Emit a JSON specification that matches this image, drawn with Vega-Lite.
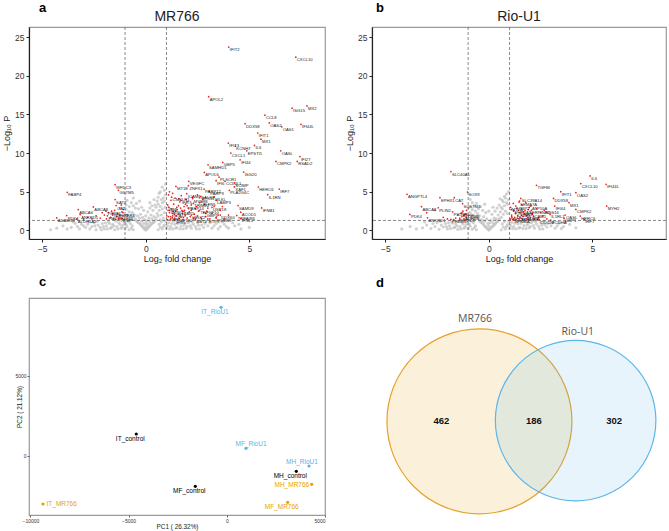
{
"$schema":"https://vega.github.io/schema/vega-lite/v6.json",
"padding":{"left":1,"top":2,"right":1,"bottom":1},
"background":"white",
"config":{
 "font":"Liberation Sans",
 "view":{"stroke":"#9a9a9a","strokeWidth":1.2},
 "axis":{"grid":false,"domainColor":"#222","domainWidth":1.2,"tickColor":"#222","tickSize":3,"labelFontSize":8.5,"labelColor":"#333","titleFontSize":9,"titleFontWeight":"normal","titleColor":"#222","labelPadding":2}
},
"datasets":{
"volA":[
{"fc":4.01,"p":23.7,"g":"IFIT2"},{"fc":7.25,"p":22.4,"g":"CXCL10"},{"fc":3.04,"p":17.3,"g":"APOL2"},{"fc":7.07,"p":15.8,"g":"ISG15"},{"fc":7.79,"p":16.1,"g":"MX2"},{"fc":5.76,"p":14.9,"g":"CCL8"},{"fc":4.8,"p":13.8,"g":"DDX58"},{"fc":5.97,"p":13.9,"g":"OAS2"},{"fc":6.57,"p":13.4,"g":"OAS1"},{"fc":7.5,"p":13.7,"g":"IFI44L"},{"fc":5.41,"p":12.6,"g":"IFIT1"},{"fc":5.57,"p":11.8,"g":"MX1"},{"fc":3.99,"p":11.3,"g":"IFIT3"},{"fc":4.33,"p":10.9,"g":"KCNH7"},{"fc":5.25,"p":11.0,"g":"IL6"},{"fc":4.88,"p":10.3,"g":"EPSTI1"},{"fc":4.11,"p":10.0,"g":"CXCL1"},{"fc":6.52,"p":10.3,"g":"OASL"},{"fc":7.45,"p":9.56,"g":"IFI27"},{"fc":4.56,"p":9.14,"g":"IFI44"},{"fc":3.72,"p":8.79,"g":"GBP5"},{"fc":6.29,"p":8.92,"g":"CMPK2"},{"fc":7.32,"p":8.92,"g":"RSAD2"},{"fc":3.01,"p":8.49,"g":"SAMHD1"},{"fc":2.83,"p":7.5,"g":"APOL6"},{"fc":4.73,"p":7.55,"g":"ISG20"},{"fc":3.54,"p":6.9,"g":"PLSCR1"},{"fc":3.4,"p":6.43,"g":"IFI6"},{"fc":3.83,"p":6.35,"g":"CCL4L1"},{"fc":2.08,"p":6.35,"g":"VEGFC"},{"fc":1.46,"p":5.7,"g":"MT1E"},{"fc":2.06,"p":5.79,"g":"ZNFX1"},{"fc":4.28,"p":6.14,"g":"SCIMP"},{"fc":4.28,"p":5.63,"g":"XAF1"},{"fc":4.04,"p":5.19,"g":"PLA2G4C"},{"fc":2.82,"p":5.36,"g":"PARP12"},{"fc":3.07,"p":5.06,"g":"PARP9"},{"fc":1.98,"p":4.76,"g":"ICAM1"},{"fc":2.66,"p":4.42,"g":"STX11"},{"fc":3.31,"p":4.33,"g":"MLKL"},{"fc":2.27,"p":4.12,"g":"MYD88"},{"fc":5.44,"p":5.62,"g":"HERC6"},{"fc":6.45,"p":5.36,"g":"IRF7"},{"fc":5.89,"p":4.63,"g":"IL1RN"},{"fc":4.46,"p":3.22,"g":"SAMD9"},{"fc":5.6,"p":2.92,"g":"IFNB1"},{"fc":4.59,"p":2.36,"g":"ACOD1"},{"fc":4.4,"p":1.93,"g":"TNFAIP6"},{"fc":4.59,"p":1.55,"g":"IFNL1"},{"fc":3.4,"p":1.6,"g":"PSMB9"},
{"fc":1.1,"p":3.0,"g":"NMI"},{"fc":1.15,"p":2.6,"g":"TRIM21"},{"fc":1.3,"p":2.2,"g":"STAT1"},{"fc":1.2,"p":1.8,"g":"IRF1"},{"fc":1.6,"p":1.6,"g":"SP110"},{"fc":1.8,"p":2.5,"g":"TAP1"},{"fc":2.0,"p":3.2,"g":"PARP14"},{"fc":2.2,"p":2.0,"g":"HELZ2"},{"fc":2.6,"p":2.6,"g":"TNFSF10"},{"fc":2.9,"p":2.2,"g":"GBP1"},{"fc":3.2,"p":3.0,"g":"USP18"},{"fc":3.6,"p":2.0,"g":"DDX60"},{"fc":2.4,"p":1.5,"g":"BST2"},{"fc":1.4,"p":1.4,"g":"IFI35"},{"fc":3.0,"p":1.5,"g":"RTP4"},{"fc":2.7,"p":3.7,"g":"SLFN5"},{"fc":3.4,"p":3.9,"g":"LAMP3"},{"fc":2.3,"p":3.5,"g":"TRIM22"},{"fc":1.7,"p":3.9,"g":"IFIT5"},{"fc":1.25,"p":4.3,"g":"CMKLR1"},{"fc":2.5,"p":4.6,"g":"LGALS9"},
{"fc":-3.79,"p":4.93,"g":"FABP4"},{"fc":-1.48,"p":5.92,"g":"WFDC3"},{"fc":-1.32,"p":5.19,"g":"GSTM5"},{"fc":-1.48,"p":3.99,"g":"SAT2"},{"fc":-1.43,"p":3.22,"g":"CAT"},{"fc":-2.53,"p":3.05,"g":"ABCA8"},{"fc":-3.26,"p":2.7,"g":"ABCA6"},{"fc":-3.82,"p":1.93,"g":"PDK4"},{"fc":-3.17,"p":2.06,"g":"ANKRD1"},{"fc":-4.3,"p":1.63,"g":"ADAM33"},{"fc":-3.33,"p":1.5,"g":"ALDH1A2"},{"fc":-1.92,"p":2.49,"g":"TGFB3"},{"fc":-1.6,"p":2.2,"g":"NDRG2"},{"fc":-1.85,"p":1.9,"g":"FMO2"},{"fc":-1.25,"p":1.9,"g":"KLF15"},{"fc":-1.3,"p":1.6,"g":"TXNIP"},{"fc":-1.1,"p":2.3,"g":"PER1"},
{"fc":1.05,"p":1.4},{"fc":1.1,"p":1.8},{"fc":1.15,"p":2.3},{"fc":1.2,"p":1.5},{"fc":1.25,"p":2.8},{"fc":1.3,"p":1.9},{"fc":1.35,"p":3.4},{"fc":1.4,"p":1.6},{"fc":1.45,"p":2.5},{"fc":1.5,"p":3.0},{"fc":1.55,"p":1.4},{"fc":1.6,"p":2.1},{"fc":1.65,"p":3.7},{"fc":1.7,"p":1.7},{"fc":1.75,"p":2.6},{"fc":1.8,"p":1.45},{"fc":1.85,"p":3.1},{"fc":1.9,"p":2.0},{"fc":1.95,"p":4.0},{"fc":2.0,"p":1.6},{"fc":2.1,"p":2.4},{"fc":2.2,"p":3.3},{"fc":2.3,"p":1.5},{"fc":2.4,"p":2.8},{"fc":2.5,"p":1.9},{"fc":2.6,"p":3.6},{"fc":2.7,"p":1.5},{"fc":2.8,"p":2.3},{"fc":2.9,"p":1.8},{"fc":3.0,"p":2.9},{"fc":3.1,"p":1.5},{"fc":3.2,"p":2.2},{"fc":3.4,"p":1.7},{"fc":3.6,"p":2.6},{"fc":3.8,"p":1.5},{"fc":4.0,"p":2.0},
{"fc":1.08,"p":2.6},{"fc":1.12,"p":3.0},{"fc":1.18,"p":1.35},{"fc":1.22,"p":3.9},{"fc":1.28,"p":1.65},{"fc":1.32,"p":2.5},{"fc":1.38,"p":2.1},{"fc":1.42,"p":4.2},{"fc":1.48,"p":1.9},{"fc":1.52,"p":2.7},{"fc":1.58,"p":3.2},{"fc":1.62,"p":1.55},{"fc":1.68,"p":2.9},{"fc":1.72,"p":4.5},{"fc":1.78,"p":2.2},{"fc":1.82,"p":1.7},{"fc":1.88,"p":2.6},{"fc":1.92,"p":3.4},{"fc":2.05,"p":2.9},{"fc":2.15,"p":1.8},{"fc":2.25,"p":4.3},{"fc":2.35,"p":2.1},{"fc":2.45,"p":3.1},{"fc":2.55,"p":2.5},{"fc":2.65,"p":1.7},{"fc":2.75,"p":4.0},{"fc":2.85,"p":3.4},{"fc":2.95,"p":2.5},{"fc":3.3,"p":3.1},{"fc":3.5,"p":2.0},{"fc":1.02,"p":1.9},{"fc":1.06,"p":3.3},{"fc":1.1,"p":4.6},{"fc":1.15,"p":5.0},{"fc":1.3,"p":4.8},{"fc":1.4,"p":1.4},{"fc":1.6,"p":4.1},{"fc":2.0,"p":3.7},{"fc":2.4,"p":1.4},{"fc":2.2,"p":2.6},{"fc":3.7,"p":3.1},
{"fc":-1.05,"p":1.4},{"fc":-1.1,"p":1.9},{"fc":-1.15,"p":2.4},{"fc":-1.2,"p":1.6},{"fc":-1.25,"p":2.9},{"fc":-1.3,"p":1.5},{"fc":-1.35,"p":2.2},{"fc":-1.4,"p":1.8},{"fc":-1.5,"p":2.6},{"fc":-1.55,"p":1.5},{"fc":-1.6,"p":2.0},{"fc":-1.7,"p":1.7},{"fc":-1.8,"p":2.3},{"fc":-1.9,"p":1.5},{"fc":-2.0,"p":2.0},{"fc":-2.2,"p":1.6},{"fc":-2.4,"p":1.9},{"fc":-2.6,"p":1.5},{"fc":-2.8,"p":1.7},{"fc":-3.0,"p":1.45},{"fc":-1.08,"p":2.7},{"fc":-1.12,"p":1.55},{"fc":-1.18,"p":3.3},{"fc":-1.28,"p":2.0},{"fc":-1.45,"p":1.45},{"fc":-1.65,"p":2.5},{"fc":-2.1,"p":2.3},
{"fc":0,"p":0.05},{"fc":0.05,"p":0.2},{"fc":-0.05,"p":0.2},{"fc":0.1,"p":0.3},{"fc":-0.1,"p":0.3},{"fc":0.15,"p":0.5},{"fc":-0.15,"p":0.5},{"fc":0.2,"p":0.6},{"fc":-0.2,"p":0.6},{"fc":0.25,"p":0.75},{"fc":-0.25,"p":0.75},{"fc":0.3,"p":0.9},{"fc":-0.3,"p":0.9},{"fc":0.35,"p":1.0},{"fc":-0.35,"p":1.0},{"fc":0.4,"p":1.1},{"fc":-0.4,"p":1.1},{"fc":0.45,"p":1.3},{"fc":-0.45,"p":1.25},
{"fc":0,"p":0.5},{"fc":0,"p":0.9},{"fc":0.1,"p":0.8},{"fc":-0.1,"p":0.9},{"fc":0.05,"p":1.2},{"fc":-0.05,"p":1.4},{"fc":0.2,"p":1.1},{"fc":-0.2,"p":1.2},{"fc":0.15,"p":1.6},{"fc":-0.15,"p":1.7},{"fc":0.3,"p":1.5},{"fc":-0.3,"p":1.6},{"fc":0,"p":1.9},{"fc":0.25,"p":2.0},{"fc":-0.25,"p":2.1},{"fc":0.4,"p":1.8},{"fc":-0.4,"p":1.9},{"fc":0.5,"p":1.6},{"fc":-0.5,"p":1.5},{"fc":0.55,"p":2.2},{"fc":-0.55,"p":2.0},{"fc":0.6,"p":1.9},{"fc":-0.6,"p":1.8},{"fc":0.65,"p":2.6},{"fc":-0.65,"p":2.3},{"fc":0.7,"p":1.4},{"fc":-0.7,"p":1.4},{"fc":0.75,"p":2.0},{"fc":-0.75,"p":1.7},{"fc":0.8,"p":2.8},{"fc":-0.8,"p":2.4},{"fc":0.85,"p":1.6},{"fc":-0.85,"p":1.5},{"fc":0.9,"p":2.3},{"fc":-0.9,"p":2.0},{"fc":0.95,"p":3.0},{"fc":-0.95,"p":2.7},
{"fc":0.1,"p":2.4},{"fc":-0.1,"p":2.6},{"fc":0.35,"p":2.6},{"fc":-0.35,"p":2.8},{"fc":0.5,"p":3.0},{"fc":-0.5,"p":2.9},{"fc":0.6,"p":3.4},{"fc":-0.6,"p":3.2},{"fc":0.7,"p":3.1},{"fc":-0.7,"p":3.6},{"fc":0.8,"p":3.6},{"fc":0.85,"p":4.2},{"fc":0.9,"p":3.8},{"fc":0.95,"p":4.6},{"fc":0.75,"p":4.0},{"fc":0.65,"p":4.8},{"fc":0.55,"p":3.8},{"fc":0.45,"p":3.3},{"fc":0.9,"p":5.2},{"fc":0.8,"p":5.6},{"fc":0.95,"p":6.0},{"fc":0.7,"p":5.0},{"fc":0.3,"p":3.2},{"fc":0.2,"p":2.9},{"fc":-0.2,"p":3.0},{"fc":-0.45,"p":3.5},{"fc":-0.8,"p":3.1},{"fc":-0.9,"p":3.9},{"fc":-0.95,"p":3.3},{"fc":-0.3,"p":3.8},{"fc":0.6,"p":4.3},{"fc":-0.6,"p":4.2},{"fc":0.4,"p":4.0},{"fc":0.2,"p":3.6},
{"fc":-0.6,"p":0.1},{"fc":-0.7,"p":0.3},{"fc":-0.8,"p":0.1},{"fc":-0.9,"p":0.5},{"fc":-1.0,"p":0.2},{"fc":-1.1,"p":0.7},{"fc":-1.2,"p":0.3},{"fc":-1.3,"p":1.0},{"fc":-1.4,"p":0.5},{"fc":-1.5,"p":0.1},{"fc":-1.6,"p":0.8},{"fc":-1.7,"p":0.3},{"fc":-1.8,"p":1.1},{"fc":-1.9,"p":0.6},{"fc":-2.0,"p":0.2},{"fc":-2.1,"p":0.9},{"fc":-2.2,"p":0.4},{"fc":-2.3,"p":0.7},{"fc":-2.4,"p":0.1},{"fc":-2.5,"p":1.0},{"fc":-2.6,"p":0.5},{"fc":-2.7,"p":0.2},{"fc":-2.8,"p":0.8},{"fc":-2.9,"p":0.4},{"fc":-3.0,"p":0.6},{"fc":-3.2,"p":0.2},{"fc":-3.4,"p":0.9},{"fc":-3.6,"p":0.4},{"fc":-3.8,"p":0.2},{"fc":-4.0,"p":0.6},{"fc":-4.3,"p":0.3},{"fc":-4.6,"p":0.1},
{"fc":-0.65,"p":0.6},{"fc":-0.75,"p":0.9},{"fc":-0.85,"p":1.2},{"fc":-0.95,"p":0.8},{"fc":-1.05,"p":1.1},{"fc":-1.15,"p":0.4},{"fc":-1.25,"p":0.8},{"fc":-1.35,"p":0.2},{"fc":-1.45,"p":1.2},{"fc":-1.55,"p":0.6},{"fc":-1.65,"p":0.4},{"fc":-1.75,"p":0.9},{"fc":-1.85,"p":0.2},{"fc":-1.95,"p":1.0},{"fc":-2.05,"p":0.5},{"fc":-2.15,"p":0.1},{"fc":-2.35,"p":1.2},{"fc":-2.45,"p":0.6},{"fc":-2.75,"p":1.1},{"fc":-3.1,"p":0.8},{"fc":-3.3,"p":0.5},{"fc":-3.5,"p":1.1},
{"fc":0.6,"p":0.1},{"fc":0.7,"p":0.4},{"fc":0.8,"p":0.2},{"fc":0.9,"p":0.7},{"fc":1.0,"p":0.3},{"fc":1.1,"p":1.0},{"fc":1.2,"p":0.5},{"fc":1.3,"p":0.2},{"fc":1.4,"p":0.8},{"fc":1.5,"p":0.4},{"fc":1.6,"p":1.1},{"fc":1.7,"p":0.6},{"fc":1.8,"p":0.2},{"fc":1.9,"p":0.9},{"fc":2.0,"p":0.5},{"fc":2.1,"p":1.2},{"fc":2.2,"p":0.3},{"fc":2.3,"p":0.8},{"fc":2.4,"p":0.5},{"fc":2.5,"p":1.0},{"fc":2.6,"p":0.2},{"fc":2.7,"p":0.7},{"fc":2.8,"p":0.4},{"fc":2.9,"p":1.1},{"fc":3.0,"p":0.6},{"fc":3.2,"p":0.3},{"fc":3.4,"p":0.9},{"fc":3.6,"p":0.5},{"fc":3.8,"p":0.8},{"fc":4.0,"p":0.3},{"fc":4.3,"p":0.6},{"fc":4.6,"p":0.2},{"fc":5.0,"p":0.4},
{"fc":0.65,"p":0.8},{"fc":0.75,"p":1.1},{"fc":0.85,"p":0.5},{"fc":0.95,"p":1.2},{"fc":1.05,"p":0.6},{"fc":1.15,"p":0.2},{"fc":1.25,"p":0.9},{"fc":1.35,"p":1.2},{"fc":1.45,"p":0.3},{"fc":1.55,"p":0.9},{"fc":1.65,"p":0.2},{"fc":1.75,"p":1.2},{"fc":1.85,"p":0.7},{"fc":1.95,"p":0.3},{"fc":2.05,"p":1.0},{"fc":2.15,"p":0.6},{"fc":2.25,"p":1.1},{"fc":2.45,"p":0.2},{"fc":2.55,"p":0.7},{"fc":2.65,"p":1.2},{"fc":2.85,"p":0.9},{"fc":3.1,"p":1.0},{"fc":3.3,"p":0.6},{"fc":3.5,"p":0.2},{"fc":3.7,"p":1.1},{"fc":3.9,"p":0.5},{"fc":4.2,"p":1.0},{"fc":4.5,"p":0.8}
],
"volB":[
{"fc":-1.83,"p":7.61,"g":"SLC40A1"},{"fc":4.89,"p":7.05,"g":"IL6"},{"fc":4.44,"p":6.06,"g":"CXCL10"},{"fc":5.66,"p":5.97,"g":"IFI44L"},{"fc":2.3,"p":5.84,"g":"TGFBI"},{"fc":3.47,"p":5.02,"g":"IFIT1"},{"fc":4.2,"p":4.89,"g":"OAS2"},{"fc":-1.03,"p":4.97,"g":"SOX9"},{"fc":-3.95,"p":4.67,"g":"ANGPTL4"},{"fc":-2.36,"p":4.24,"g":"EPHX1"},{"fc":-1.67,"p":4.24,"g":"CAT"},{"fc":3.12,"p":4.15,"g":"DDX58"},{"fc":1.54,"p":4.15,"g":"SLC39A14"},{"fc":1.46,"p":3.68,"g":"SEMA7A"},{"fc":3.87,"p":3.59,"g":"MX1"},{"fc":-1.27,"p":3.46,"g":"SQSTM1"},{"fc":-3.25,"p":3.07,"g":"ABCA8"},{"fc":-2.44,"p":2.94,"g":"PLIN2"},{"fc":1.3,"p":3.16,"g":"LTBP2"},{"fc":2.03,"p":3.16,"g":"ATP10A"},{"fc":3.18,"p":3.16,"g":"IFI44"},{"fc":5.69,"p":3.16,"g":"MYH2"},{"fc":4.2,"p":2.72,"g":"CMPK2"},{"fc":2.67,"p":2.6,"g":"RGS16"},{"fc":1.2,"p":2.6,"g":"PHLDA1"},{"fc":-1.75,"p":2.42,"g":"PIK3R1"},{"fc":2.96,"p":2.08,"g":"IL1RL1"},{"fc":3.68,"p":1.99,"g":"OASL"},{"fc":4.41,"p":1.86,"g":"HERC6"},{"fc":4.6,"p":1.43,"g":"IRF7"},{"fc":3.63,"p":1.56,"g":"GBP1"},{"fc":-3.81,"p":2.08,"g":"PDK4"},{"fc":-2.96,"p":1.64,"g":"ANKRD1"},{"fc":-1.83,"p":1.43,"g":"PRKG1"},{"fc":2.99,"p":1.35,"g":"PCDHA"},{"fc":2.43,"p":1.4,"g":"CDC20"},
{"fc":1.3,"p":2.2,"g":"CXCL8"},{"fc":1.1,"p":1.8,"g":"CCL2"},{"fc":1.6,"p":2.4,"g":"IER3"},{"fc":1.8,"p":1.9,"g":"SOD2"},{"fc":1.2,"p":1.5,"g":"NFKBIA"},{"fc":1.5,"p":1.7,"g":"TNFAIP3"},{"fc":2.1,"p":2.1,"g":"ICAM1"},{"fc":1.9,"p":2.7,"g":"SERPINB2"},{"fc":1.05,"p":3.0,"g":"MT2A"},{"fc":-1.2,"p":1.9,"g":"ADH1B"},{"fc":-1.4,"p":1.6,"g":"FOXO1"},{"fc":-1.1,"p":2.1,"g":"TXNIP"},{"fc":-1.3,"p":2.3,"g":"KLF9"},
{"fc":1.05,"p":1.5},{"fc":1.1,"p":2.0},{"fc":1.15,"p":1.4},{"fc":1.2,"p":2.5},{"fc":1.25,"p":1.7},{"fc":1.3,"p":1.45},{"fc":1.35,"p":2.9},{"fc":1.4,"p":1.9},{"fc":1.45,"p":1.5},{"fc":1.5,"p":2.3},{"fc":1.55,"p":1.6},{"fc":1.6,"p":3.3},{"fc":1.65,"p":1.8},{"fc":1.7,"p":1.4},{"fc":1.75,"p":2.6},{"fc":1.8,"p":1.55},{"fc":1.85,"p":2.0},{"fc":1.9,"p":1.4},{"fc":1.95,"p":3.0},{"fc":2.0,"p":1.7},{"fc":2.1,"p":2.2},{"fc":2.2,"p":1.5},{"fc":2.3,"p":2.8},{"fc":2.4,"p":1.6},{"fc":2.6,"p":1.9},{"fc":2.8,"p":1.5},{"fc":1.08,"p":2.7},{"fc":1.18,"p":3.5},{"fc":1.28,"p":2.2},{"fc":1.38,"p":1.6},{"fc":1.48,"p":3.8},{"fc":1.58,"p":2.0},{"fc":1.68,"p":2.4},{"fc":1.78,"p":3.6},{"fc":1.88,"p":1.7},{"fc":2.05,"p":2.6},{"fc":2.15,"p":1.85},{"fc":2.5,"p":2.3},{"fc":1.02,"p":1.35},{"fc":1.12,"p":1.65},{"fc":1.22,"p":1.35},{"fc":1.42,"p":2.6},{"fc":1.62,"p":1.4},{"fc":1.72,"p":2.1},{"fc":2.35,"p":1.4},
{"fc":-1.05,"p":1.4},{"fc":-1.1,"p":1.7},{"fc":-1.15,"p":2.1},{"fc":-1.2,"p":1.5},{"fc":-1.25,"p":2.5},{"fc":-1.3,"p":1.8},{"fc":-1.4,"p":1.45},{"fc":-1.5,"p":2.0},{"fc":-1.6,"p":1.6},{"fc":-1.7,"p":1.4},{"fc":-1.08,"p":2.6},{"fc":-1.18,"p":1.35},{"fc":-1.35,"p":2.2},{"fc":-2.0,"p":1.5},{"fc":-2.2,"p":1.7},{"fc":-3.0,"p":2.3},{"fc":-2.6,"p":2.6},
{"fc":0,"p":0.05},{"fc":0.05,"p":0.2},{"fc":-0.05,"p":0.2},{"fc":0.1,"p":0.35},{"fc":-0.1,"p":0.3},{"fc":0.15,"p":0.45},{"fc":-0.15,"p":0.5},{"fc":0.2,"p":0.6},{"fc":-0.2,"p":0.55},{"fc":0.25,"p":0.7},{"fc":-0.25,"p":0.75},{"fc":0.3,"p":0.85},{"fc":-0.3,"p":0.9},{"fc":0.35,"p":1.0},{"fc":-0.35,"p":1.05},{"fc":0.4,"p":1.15},{"fc":-0.4,"p":1.1},{"fc":0.45,"p":1.25},{"fc":-0.45,"p":1.3},
{"fc":0,"p":0.6},{"fc":0.05,"p":1.0},{"fc":-0.05,"p":0.9},{"fc":0.1,"p":1.3},{"fc":-0.1,"p":1.5},{"fc":0.2,"p":1.0},{"fc":-0.2,"p":1.2},{"fc":0.25,"p":1.6},{"fc":-0.25,"p":1.8},{"fc":0.35,"p":1.5},{"fc":-0.35,"p":1.4},{"fc":0.45,"p":2.0},{"fc":-0.45,"p":1.9},{"fc":0.5,"p":1.5},{"fc":-0.5,"p":1.6},{"fc":0.55,"p":2.4},{"fc":-0.55,"p":2.2},{"fc":0.6,"p":1.7},{"fc":-0.6,"p":1.8},{"fc":0.65,"p":2.8},{"fc":-0.65,"p":2.5},{"fc":0.7,"p":2.1},{"fc":-0.7,"p":1.5},{"fc":0.75,"p":3.2},{"fc":-0.75,"p":2.0},{"fc":0.8,"p":2.5},{"fc":-0.8,"p":2.7},{"fc":0.85,"p":3.6},{"fc":-0.85,"p":1.6},{"fc":0.9,"p":2.2},{"fc":-0.9,"p":2.3},{"fc":0.95,"p":4.0},{"fc":-0.95,"p":3.0},
{"fc":0.15,"p":2.1},{"fc":-0.15,"p":2.3},{"fc":0.3,"p":2.5},{"fc":-0.3,"p":2.6},{"fc":0.4,"p":2.9},{"fc":-0.4,"p":3.1},{"fc":0.5,"p":3.3},{"fc":-0.5,"p":2.8},{"fc":0.6,"p":3.0},{"fc":-0.6,"p":3.5},{"fc":0.7,"p":3.7},{"fc":-0.7,"p":3.2},{"fc":0.8,"p":4.2},{"fc":-0.8,"p":3.6},{"fc":0.85,"p":4.7},{"fc":0.9,"p":3.4},{"fc":0.95,"p":5.0},{"fc":0.75,"p":4.4},{"fc":0.65,"p":3.9},{"fc":-0.9,"p":4.0},{"fc":0.55,"p":4.1},{"fc":0.0,"p":2.5},{"fc":0.2,"p":3.0},{"fc":-0.2,"p":3.4},
{"fc":-0.6,"p":0.1},{"fc":-0.7,"p":0.35},{"fc":-0.8,"p":0.15},{"fc":-0.9,"p":0.55},{"fc":-1.0,"p":0.25},{"fc":-1.1,"p":0.75},{"fc":-1.2,"p":0.3},{"fc":-1.3,"p":1.05},{"fc":-1.4,"p":0.5},{"fc":-1.5,"p":0.15},{"fc":-1.6,"p":0.85},{"fc":-1.7,"p":0.35},{"fc":-1.8,"p":1.1},{"fc":-1.9,"p":0.6},{"fc":-2.0,"p":0.2},{"fc":-2.1,"p":0.9},{"fc":-2.2,"p":0.45},{"fc":-2.3,"p":0.7},{"fc":-2.4,"p":0.15},{"fc":-2.5,"p":1.0},{"fc":-2.6,"p":0.5},{"fc":-2.8,"p":0.25},{"fc":-3.0,"p":0.7},{"fc":-3.2,"p":0.35},{"fc":-3.5,"p":0.2},{"fc":-3.8,"p":0.5},{"fc":-4.2,"p":0.2},
{"fc":-0.65,"p":0.6},{"fc":-0.75,"p":1.0},{"fc":-0.85,"p":1.2},{"fc":-0.95,"p":0.8},{"fc":-1.05,"p":1.15},{"fc":-1.15,"p":0.45},{"fc":-1.25,"p":0.85},{"fc":-1.35,"p":0.2},{"fc":-1.45,"p":1.2},{"fc":-1.55,"p":0.6},{"fc":-1.65,"p":0.4},{"fc":-1.75,"p":0.95},{"fc":-1.85,"p":0.25},{"fc":-1.95,"p":1.0},{"fc":-2.05,"p":0.5},{"fc":-2.35,"p":1.2},{"fc":-2.7,"p":0.9},{"fc":-3.1,"p":1.1},
{"fc":0.6,"p":0.1},{"fc":0.7,"p":0.45},{"fc":0.8,"p":0.2},{"fc":0.9,"p":0.75},{"fc":1.0,"p":0.3},{"fc":1.1,"p":1.05},{"fc":1.2,"p":0.5},{"fc":1.3,"p":0.2},{"fc":1.4,"p":0.85},{"fc":1.5,"p":0.4},{"fc":1.6,"p":1.15},{"fc":1.7,"p":0.65},{"fc":1.8,"p":0.25},{"fc":1.9,"p":0.95},{"fc":2.0,"p":0.5},{"fc":2.1,"p":1.2},{"fc":2.2,"p":0.3},{"fc":2.3,"p":0.85},{"fc":2.4,"p":0.55},{"fc":2.5,"p":1.05},{"fc":2.6,"p":0.2},{"fc":2.7,"p":0.75},{"fc":2.8,"p":0.45},{"fc":2.9,"p":1.1},{"fc":3.0,"p":0.6},{"fc":3.2,"p":0.3},{"fc":3.4,"p":0.95},{"fc":3.6,"p":0.5},{"fc":3.9,"p":0.8},{"fc":4.2,"p":0.35},
{"fc":0.65,"p":0.85},{"fc":0.75,"p":1.15},{"fc":0.85,"p":0.5},{"fc":0.95,"p":1.2},{"fc":1.05,"p":0.65},{"fc":1.15,"p":0.25},{"fc":1.25,"p":0.95},{"fc":1.35,"p":1.25},{"fc":1.45,"p":0.3},{"fc":1.55,"p":0.9},{"fc":1.65,"p":0.25},{"fc":1.75,"p":1.2},{"fc":1.85,"p":0.7},{"fc":1.95,"p":0.35},{"fc":2.05,"p":1.0},{"fc":2.15,"p":0.65},{"fc":2.25,"p":1.15},{"fc":2.45,"p":0.2},{"fc":2.55,"p":0.7},{"fc":2.65,"p":1.2},{"fc":2.85,"p":0.9},{"fc":3.1,"p":1.0},{"fc":3.3,"p":0.6},{"fc":3.5,"p":0.25},{"fc":3.7,"p":1.1}
],
"pca":[
{"s":"IT_RioU1","pc1":-295,"pc2":9279,"v":"RioU1"},
{"s":"IT_control","pc1":-4607,"pc2":1368,"v":"control"},
{"s":"MF_RioU1","pc1":978,"pc2":475,"v":"RioU1"},
{"s":"MH_RioU1","pc1":4185,"pc2":-630,"v":"RioU1"},
{"s":"MH_control","pc1":3539,"pc2":-961,"v":"control"},
{"s":"MH_MR766","pc1":4323,"pc2":-1773,"v":"MR766"},
{"s":"MF_control","pc1":-1603,"pc2":-1898,"v":"control"},
{"s":"MF_MR766","pc1":3101,"pc2":-2897,"v":"MR766"},
{"s":"IT_MR766","pc1":-9357,"pc2":-3003,"v":"MR766"}
],
"venn":[{"set":"MR766","x":0,"y":0,"n":648},{"set":"Rio-U1","x":26.5,"y":0.2,"n":488}],
"vennCounts":[{"x":-10.5,"y":0,"count":462},{"x":15,"y":0,"count":186},{"x":37.1,"y":0,"count":302}],
"vennLabels":[{"x":-1.2,"y":28.1,"label":"MR766"},{"x":27.1,"y":24.5,"label":"Rio-U1"}]
},
"columns":2,
"spacing":{"row":12,"column":17},
"concat":[
 {"title":{"text":"a","anchor":"start","frame":"group","fontSize":13,"fontWeight":"bold","color":"#000","dx":10,"offset":-16,"baseline":"alphabetic"},
  "bounds":"flush",
  "vconcat":[{
   "width":296,"height":212,
   "title":{"text":"MR766","fontSize":14,"fontWeight":"normal","anchor":"middle","frame":"group","baseline":"alphabetic","offset":-8,"color":"#222"},
   "layer":[
    {"data":{"name":"volA"},"transform":[{"filter":"!(abs(datum.fc)>1 && datum.p>1.301)"}],
     "mark":{"type":"point","filled":true,"size":10,"color":"#c2c2c2","opacity":0.75},
     "encoding":{"x":{"field":"fc","type":"quantitative","scale":{"domain":[-5.64,8.66],"nice":false,"zero":false},"axis":{"values":[-5,0,5],"title":"Log₂ fold change","titleY":19,"titleBaseline":"middle"}},
                 "y":{"field":"p","type":"quantitative","scale":{"domain":[-1.1,26.3],"nice":false,"zero":false},"axis":{"values":[0,5,10,15,20,25],"title":"−Log₁₀ P","titleX":-23,"titleBaseline":"middle"}}}},
    {"data":{"name":"volA"},"transform":[{"filter":"abs(datum.fc)>1 && datum.p>1.301"}],
     "mark":{"type":"point","filled":true,"size":3,"color":"#ee2222","opacity":1},
     "encoding":{"x":{"field":"fc","type":"quantitative"},"y":{"field":"p","type":"quantitative"}}},
    {"data":{"name":"volA"},"transform":[{"filter":"isValid(datum.g)"}],
     "mark":{"type":"text","fontSize":4.2,"align":"left","baseline":"top","dx":1,"dy":1,"color":"#222"},
     "encoding":{"x":{"field":"fc","type":"quantitative"},"y":{"field":"p","type":"quantitative"},"text":{"field":"g"}}},
    {"data":{"values":[{"fc":-1},{"fc":1}]},"mark":{"type":"rule","strokeDash":[3,2],"color":"#555","strokeWidth":0.7},
     "encoding":{"x":{"field":"fc","type":"quantitative"}}},
    {"data":{"values":[{"p":1.301}]},"mark":{"type":"rule","strokeDash":[3,2],"color":"#555","strokeWidth":0.7},
     "encoding":{"y":{"field":"p","type":"quantitative"}}}
   ]}]},
 {"title":{"text":"b","anchor":"start","frame":"group","fontSize":13,"fontWeight":"bold","color":"#000","dx":4,"offset":-16,"baseline":"alphabetic"},
  "bounds":"flush",
  "vconcat":[{
   "width":294,"height":212,
   "title":{"text":"Rio-U1","fontSize":14,"fontWeight":"normal","anchor":"middle","frame":"group","baseline":"alphabetic","offset":-8,"color":"#222"},
   "layer":[
    {"data":{"name":"volB"},"transform":[{"filter":"!(abs(datum.fc)>1 && datum.p>1.301)"}],
     "mark":{"type":"point","filled":true,"size":10,"color":"#c2c2c2","opacity":0.75},
     "encoding":{"x":{"field":"fc","type":"quantitative","scale":{"domain":[-5.64,8.55],"nice":false,"zero":false},"axis":{"values":[-5,0,5],"title":"Log₂ fold change","titleY":19,"titleBaseline":"middle"}},
                 "y":{"field":"p","type":"quantitative","scale":{"domain":[-1.1,26.3],"nice":false,"zero":false},"axis":{"values":[0,5,10,15,20,25],"title":"−Log₁₀ P","titleX":-23,"titleBaseline":"middle"}}}},
    {"data":{"name":"volB"},"transform":[{"filter":"abs(datum.fc)>1 && datum.p>1.301"}],
     "mark":{"type":"point","filled":true,"size":3,"color":"#ee2222","opacity":1},
     "encoding":{"x":{"field":"fc","type":"quantitative"},"y":{"field":"p","type":"quantitative"}}},
    {"data":{"name":"volB"},"transform":[{"filter":"isValid(datum.g)"}],
     "mark":{"type":"text","fontSize":4.2,"align":"left","baseline":"top","dx":1,"dy":1,"color":"#222"},
     "encoding":{"x":{"field":"fc","type":"quantitative"},"y":{"field":"p","type":"quantitative"},"text":{"field":"g"}}},
    {"data":{"values":[{"fc":-1},{"fc":1}]},"mark":{"type":"rule","strokeDash":[3,2],"color":"#555","strokeWidth":0.7},
     "encoding":{"x":{"field":"fc","type":"quantitative"}}},
    {"data":{"values":[{"p":1.301}]},"mark":{"type":"rule","strokeDash":[3,2],"color":"#555","strokeWidth":0.7},
     "encoding":{"y":{"field":"p","type":"quantitative"}}}
   ]}]},
 {"title":{"text":"c","anchor":"start","frame":"group","fontSize":13,"fontWeight":"bold","color":"#000","dx":10,"offset":-2,"baseline":"alphabetic"},
  "bounds":"flush",
  "vconcat":[{
   "width":296,"height":217,
   "data":{"name":"pca"},
   "encoding":{
    "x":{"field":"pc1","type":"quantitative","scale":{"domain":[-10070,5000],"nice":false,"zero":false},"axis":{"values":[-10000,-5000,0,5000],"format":"d","domain":false,"tickSize":2,"tickColor":"#666","labelFontSize":5,"labelPadding":1,"title":"PC1 ( 26.32%)","titleFontSize":6.4,"titleY":11,"titleBaseline":"middle"}},
    "y":{"field":"pc2","type":"quantitative","scale":{"domain":[-3690,9860],"nice":false,"zero":false},"axis":{"values":[0,5000],"format":"d","domain":false,"tickSize":2,"tickColor":"#666","labelFontSize":5,"labelPadding":1,"title":"PC2 ( 21.12%)","titleFontSize":6.4,"titleX":-10,"titleBaseline":"middle"}},
    "color":{"field":"v","type":"nominal","scale":{"domain":["RioU1","control","MR766"],"range":["#56B4E9","#000000","#E69F00"]},"legend":null}
   },
   "layer":[
    {"mark":{"type":"point","filled":true,"size":10,"opacity":1}},
    {"transform":[{"filter":{"field":"s","oneOf":["IT_RioU1","IT_control","MH_control","MF_control","MF_MR766"]}}],
     "mark":{"type":"text","fontSize":6.5,"dx":-6,"dy":5,"align":"center","baseline":"middle"},"encoding":{"text":{"field":"s"}}},
    {"transform":[{"filter":{"field":"s","oneOf":["MF_RioU1"]}}],
     "mark":{"type":"text","fontSize":6.5,"dx":5,"dy":-4,"align":"center","baseline":"middle"},"encoding":{"text":{"field":"s"}}},
    {"transform":[{"filter":{"field":"s","oneOf":["MH_RioU1"]}}],
     "mark":{"type":"text","fontSize":6.5,"dx":-7,"dy":-4,"align":"center","baseline":"middle"},"encoding":{"text":{"field":"s"}}},
    {"transform":[{"filter":{"field":"s","oneOf":["MH_MR766"]}}],
     "mark":{"type":"text","fontSize":6.5,"dx":-2.5,"dy":0.7,"align":"right","baseline":"middle"},"encoding":{"text":{"field":"s"}}},
    {"transform":[{"filter":{"field":"s","oneOf":["IT_MR766"]}}],
     "mark":{"type":"text","fontSize":6.5,"dx":3.5,"dy":0.3,"align":"left","baseline":"middle"},"encoding":{"text":{"field":"s"}}}
   ]}]},
 {"title":{"text":"d","anchor":"start","frame":"group","fontSize":13,"fontWeight":"bold","color":"#000","dx":4,"offset":-2,"baseline":"alphabetic"},
  "bounds":"flush",
  "vconcat":[{
   "width":294,"height":217,
   "view":{"stroke":null},
   "layer":[
    {"data":{"name":"venn"},
     "mark":{"type":"point","shape":"circle","filled":false,"fillOpacity":0.14,"strokeWidth":1.2,"opacity":1},
     "encoding":{
      "x":{"field":"x","type":"quantitative","scale":{"domain":[-29.6,51.4],"nice":false,"zero":false},"axis":null},
      "y":{"field":"y","type":"quantitative","scale":{"domain":[-25.8,33.97],"nice":false,"zero":false},"axis":null},
      "size":{"field":"n","type":"quantitative","scale":{"domain":[0,648],"range":[0,34225]},"legend":null},
      "fill":{"field":"set","type":"nominal","scale":{"domain":["MR766","Rio-U1"],"range":["#E69F00","#56B4E9"]},"legend":null},
      "stroke":{"field":"set","type":"nominal","scale":{"domain":["MR766","Rio-U1"],"range":["#E8A02A","#5DB5E8"]},"legend":null}
     }},
    {"data":{"name":"vennCounts"},
     "mark":{"type":"text","fontSize":9.5,"fontWeight":"bold","color":"#111","baseline":"middle"},
     "encoding":{"x":{"field":"x","type":"quantitative"},"y":{"field":"y","type":"quantitative"},"text":{"field":"count"}}},
    {"data":{"name":"vennLabels"},
     "mark":{"type":"text","fontSize":10.5,"font":"Open Sans","color":"#555","baseline":"middle"},
     "encoding":{"x":{"field":"x","type":"quantitative"},"y":{"field":"y","type":"quantitative"},"text":{"field":"label"}}}
   ]}]}
]
}
